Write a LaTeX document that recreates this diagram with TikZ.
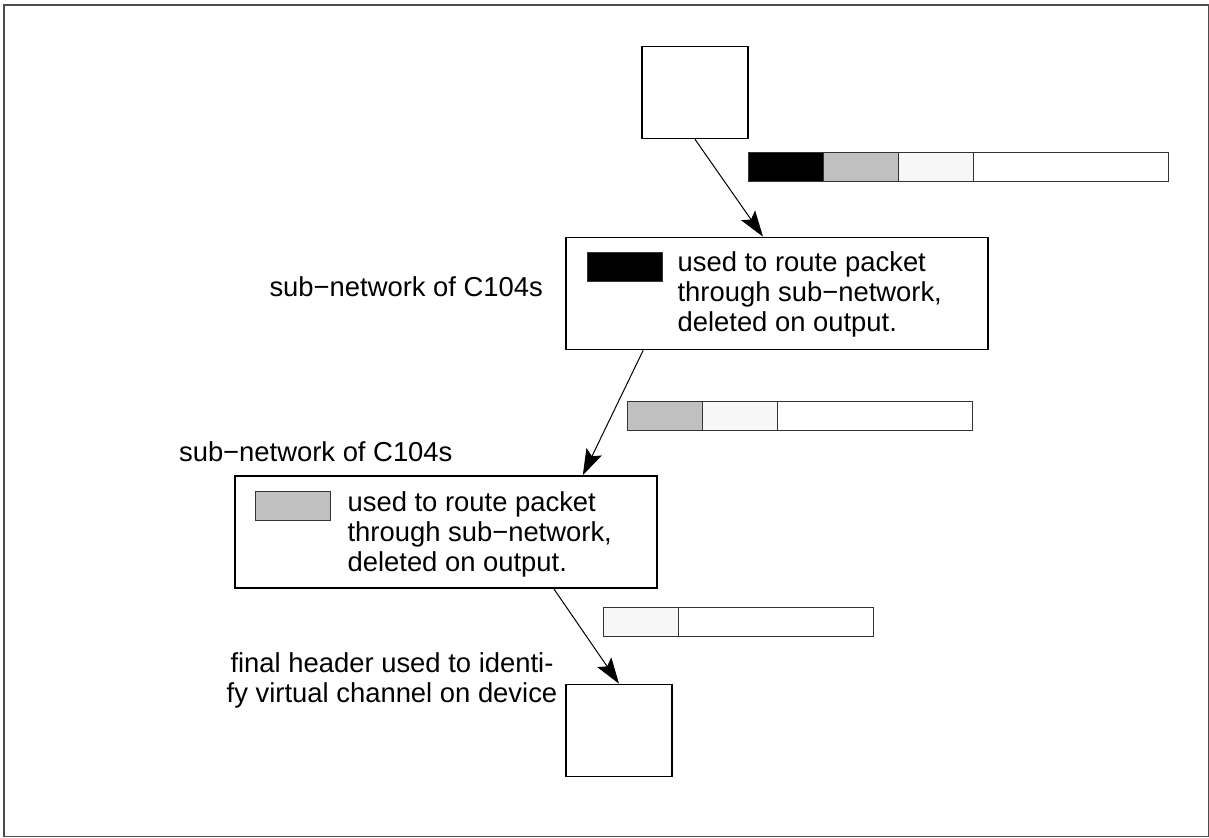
\documentclass[tikz,border=0pt]{standalone}
\usepackage{fontspec}
\setmainfont{Liberation Sans}
\usetikzlibrary{positioning,arrows.meta}

\definecolor{hdrgray}{RGB}{192,192,192}
\definecolor{hdrlight}{RGB}{247,247,247}

\begin{document}
\begin{tikzpicture}[x=0.5pt, y=-0.5pt,
    every node/.style={font=\fontsize{13.7}{15}\selectfont},
    device/.style={draw, line width=0.8pt, minimum width=53pt, minimum height=46pt, inner sep=0pt},
    switchbox/.style={draw, line width=0.8pt, minimum width=211pt, minimum height=56pt, inner sep=0pt},
    patch/.style={draw=black!80, line width=0.5pt, minimum width=37.5pt, minimum height=14.5pt, inner sep=0pt},
    seg/.style={draw=black!80, line width=0.5pt, minimum width=37.5pt, minimum height=14.5pt, inner sep=0pt, outer sep=0pt},
    note/.style={align=left, inner sep=0pt},
    route/.style={line width=0.5pt, -{Stealth[length=13pt,width=8.5pt,inset=2.5pt]}}
]
    \useasboundingbox (0,0) rectangle (1209,838);
    \draw[black!70, line width=0.6pt] (4,5) rectangle (1208.5,836.5);

    % devices and sub-networks
    \node[device] (src) at (695,92.5) {};
    \node[switchbox] (hop1) at (777,293.5) {};
    \node[switchbox] (hop2) at (446,532) {};
    \node[device] (dst) at (619,730.5) {};

    \node[patch, fill=black, below right=7.5pt and 11pt of hop1.north west] (k1) {};
    \node[note, right=7pt of k1.north east, anchor=north west] (t1) {used to route packet\\through sub−network,\\deleted on output.};
    \node[patch, fill=hdrgray, below right=8pt and 10.5pt of hop2.north west] (k2) {};
    \node[note, right=8pt of k2.north east, anchor=north west] (t2) {used to route packet\\through sub−network,\\deleted on output.};

    \node[anchor=east] (lab1) at (550,287) {sub−network of C104s};
    \node[anchor=west] (lab2) at (172,452) {sub−network of C104s};
    \node[align=center] (lab3) at (392,680) {final header used to identi-\\fy virtual channel on device};

    % packet headers
    \node[seg, fill=black, anchor=north west] (h1a) at (748,153) {};
    \node[seg, fill=hdrgray, right=0pt of h1a] (h1b) {};
    \node[seg, fill=hdrlight, right=0pt of h1b] (h1c) {};
    \node[seg, fill=white, minimum width=97.5pt, right=0pt of h1c] (h1d) {};

    \node[seg, fill=hdrgray, anchor=north west] (h2a) at (627,402) {};
    \node[seg, fill=hdrlight, right=0pt of h2a] (h2b) {};
    \node[seg, fill=white, minimum width=97.5pt, right=0pt of h2b] (h2c) {};

    \node[seg, fill=hdrlight, anchor=north west] (h3a) at (603,608) {};
    \node[seg, fill=white, minimum width=97.5pt, right=0pt of h3a] (h3b) {};

    % routes
    \draw[route] (src.south) -- ([xshift=-7pt]hop1.north);
    \draw[route] ([xshift=39pt]hop1.south west) -- ([xshift=-37.5pt]hop2.north east);
    \draw[route] ([xshift=-52pt]hop2.south east) -- (dst.north);
\end{tikzpicture}
\end{document}
